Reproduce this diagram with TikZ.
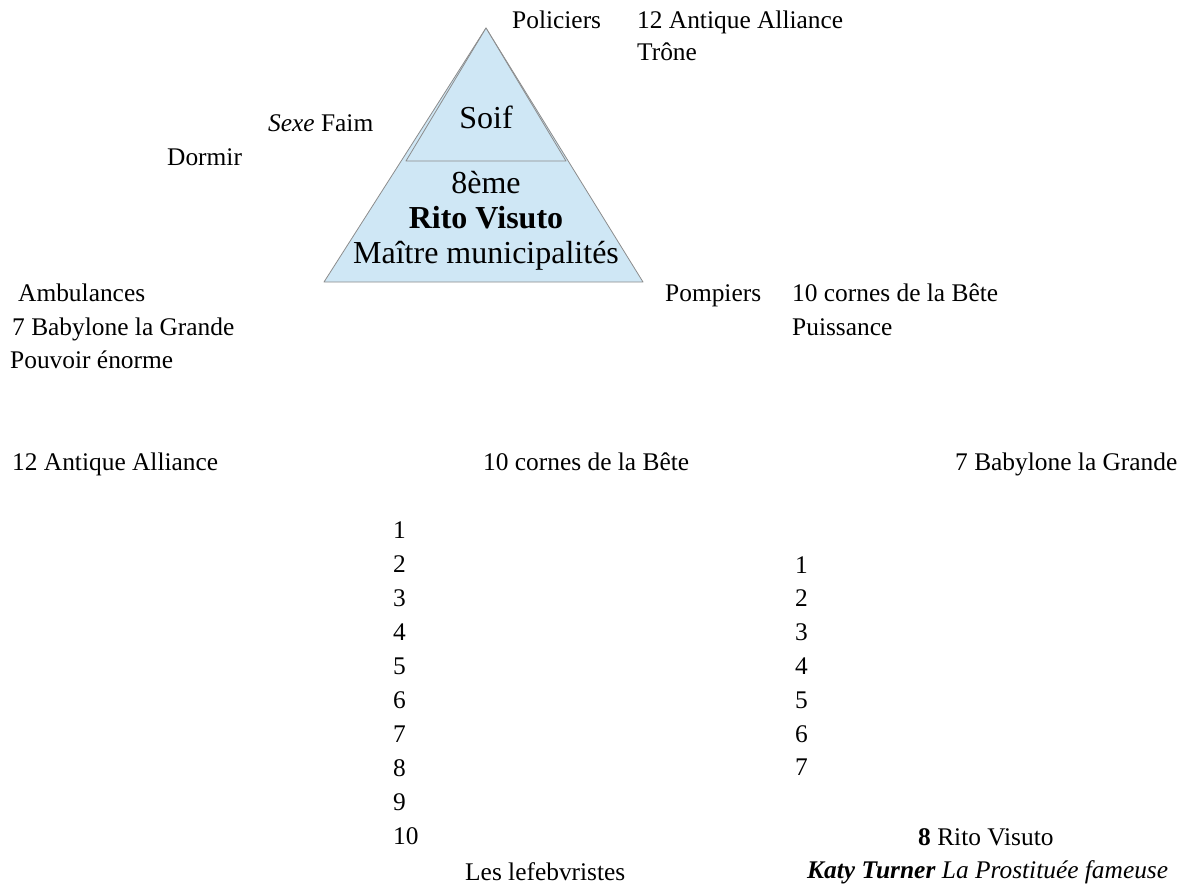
\documentclass[tikz,border=0pt]{standalone}
\usepackage{fontspec}
\setmainfont{Liberation Serif}
\usepackage{tikz}

\definecolor{pyrfill}{HTML}{CFE7F5}
\definecolor{pyrline}{HTML}{8C8C8C}

\begin{document}
\begin{tikzpicture}[
  x=1pt, y=-1pt,
  lbl/.style={anchor=base west, inner sep=0pt, font=\fontsize{25.4}{30}\selectfont},
  big/.style={anchor=base, inner sep=0pt, font=\fontsize{32}{38}\selectfont},
  layer/.style={draw=pyrline, fill=pyrfill, line width=0.8pt, line join=round}
]
\useasboundingbox (0,0) rectangle (1195,884);

% --- Pyramid: outer triangle and top layer ---
\coordinate (apex) at (486,28);
\coordinate (baseL) at (324,282);
\coordinate (baseR) at (643,282);
\coordinate (midL) at (406,161);
\coordinate (midR) at (566,161);
\draw[layer] (baseL) -- (baseR) -- (apex) -- cycle;
\draw[layer] (midL) -- (midR) -- (apex) -- cycle;

% Pyramid text
\node[big] (soif) at (486,128) {Soif};
\node[big] (rang) at (486,193) {8ème};
\node[big] (rito) at (486,228) {\textbf{Rito Visuto}};
\node[big] (maitre) at (486,263) {Maître municipalités};

% --- Labels around the pyramid ---
\node[lbl] (policiers) at (512,28) {Policiers};
\node[lbl] (allianceT) at (637,28) {12 Antique Alliance};
\node[lbl] (trone) at (637,60) {Trône};
\node[lbl] (faim) at (268,131) {\textit{Sexe} Faim};
\node[lbl] (dormir) at (167,165) {Dormir};

\node[lbl] (ambulances) at (18,301) {Ambulances};
\node[lbl] (babyloneL) at (12,335) {7 Babylone la Grande};
\node[lbl] (pouvoir) at (10,368) {Pouvoir énorme};

\node[lbl] (pompiers) at (665,301) {Pompiers};
\node[lbl] (cornesR) at (792,301) {10 cornes de la Bête};
\node[lbl] (puissance) at (792,335) {Puissance};

% --- Column headings ---
\node[lbl] (allianceH) at (12,470) {12 Antique Alliance};
\node[lbl] (cornesH) at (483,470) {10 cornes de la Bête};
\node[lbl] (babyloneH) at (955,470) {7 Babylone la Grande};

% --- Numbered columns ---
\foreach \i in {1,...,10}
  \node[lbl] (cornes\i) at (393,{538+34.1*(\i-1)}) {\i};
\foreach \i in {1,...,7}
  \node[lbl] (babylone\i) at (795,{573+33.8*(\i-1)}) {\i};

% --- Bottom lines ---
\node[lbl] (huit) at (918,845) {\textbf{8} Rito Visuto};
\node[lbl] (lefeb) at (465,880) {Les lefebvristes};
\node[lbl] (katy) at (807,878) {\textbf{\textit{Katy Turner}} \textit{La Prostituée fameuse}};

\end{tikzpicture}
\end{document}
